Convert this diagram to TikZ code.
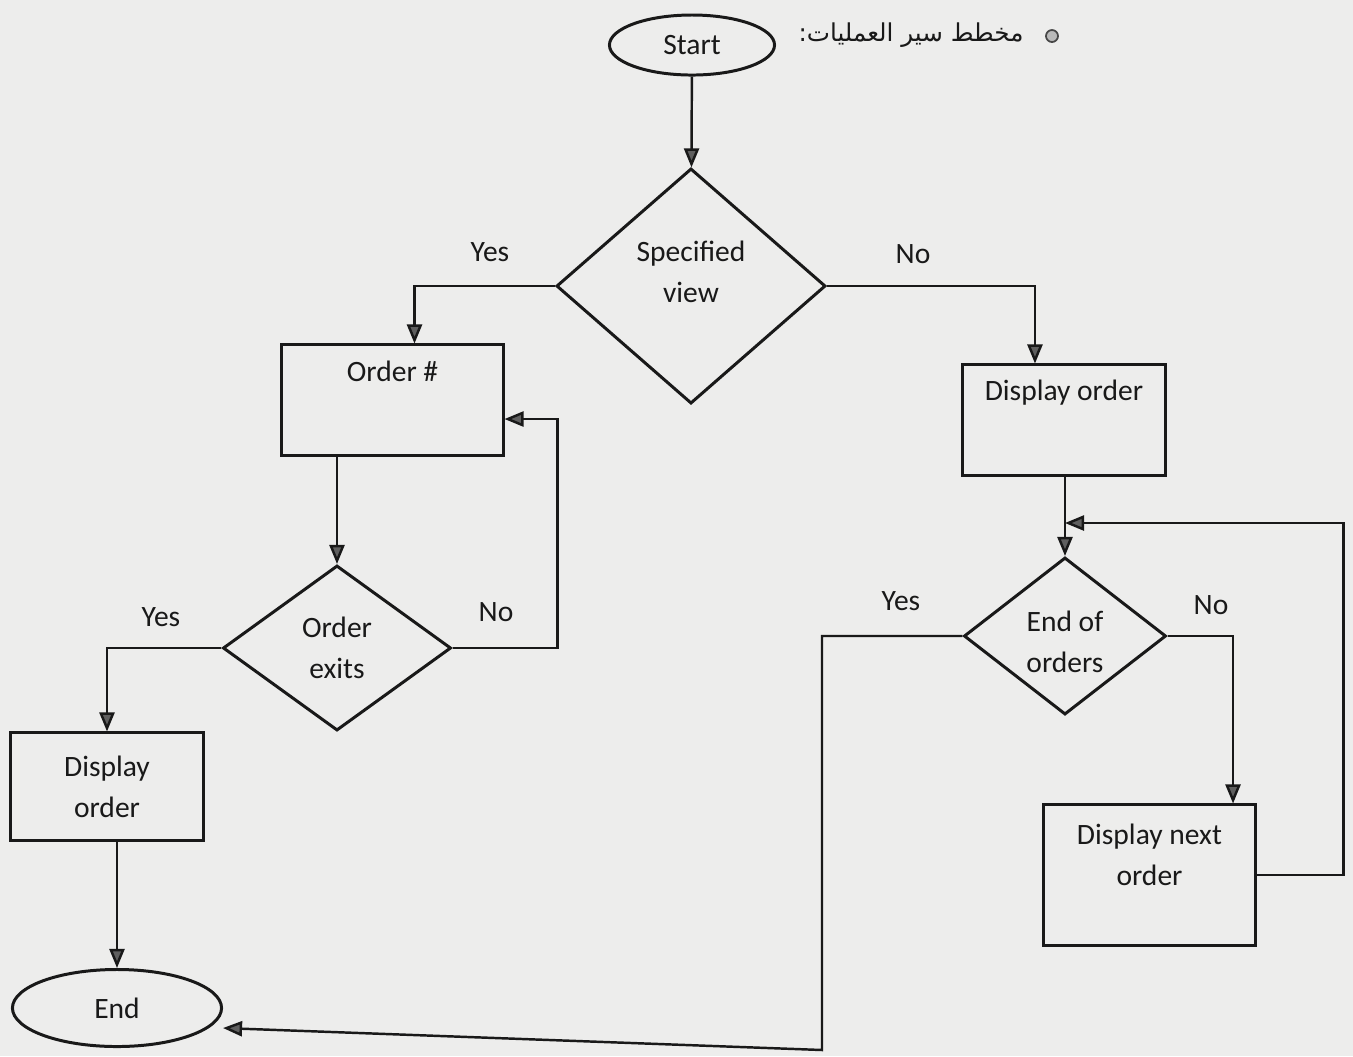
\documentclass[tikz,border=0pt]{standalone}
\usepackage{fontspec}
\setmainfont{Carlito}
\newfontfamily\arabicfont[Script=Arabic]{DejaVu Sans}
\TeXXeTstate=1
\usetikzlibrary{shapes.geometric,arrows.meta}
\definecolor{paper}{RGB}{237,237,236}
\definecolor{ink}{RGB}{25,25,25}
\definecolor{tipgray}{RGB}{95,95,95}
\begin{document}
\begin{tikzpicture}[x=0.01cm, y=-0.01cm,
    every node/.style={font=\fontsize{8.4}{11.6}\selectfont, text=ink},
    box/.style={draw=ink, line width=0.85pt, rectangle, align=center, inner sep=2pt},
    txtat/.style 2 args={label={[anchor=center, align=center, yshift=#2]north:#1}},
    dec/.style={draw=ink, line width=0.85pt, diamond, align=center, inner sep=0pt},
    term/.style={draw=ink, line width=0.85pt, ellipse, inner sep=0pt},
    arr/.style={draw=ink, line width=0.7pt,
                -{Triangle[length=0.19cm, width=0.15cm, fill=tipgray]}},
    lbl/.style={inner sep=1pt}
  ]
    \fill[paper] (0,0) rectangle (1353,1056);
    \useasboundingbox (0,0) rectangle (1353,1056);

    % heading
    \node[circle, draw=ink!80, fill=gray!55, line width=0.5pt, inner sep=0pt,
      minimum size=0.12cm] (bullet) at (1052,36) {};
    \node (title) at (911,35) {\arabicfont\fontsize{7}{8}\selectfont\beginR مخطط سير العمليات:\endR};

    \node[term, minimum width=1.65cm, minimum height=0.60cm] (start) at (692,45)   {Start};
    \node[dec, txtat={Specified\\view}{-1.05cm}, minimum width=2.69cm, minimum height=2.35cm]
      (spec) at (691,286) {};
    \node[box, txtat={Order \#}{-0.28cm}, minimum width=2.21cm, minimum height=1.10cm]
      (ordno) at (392.5,400) {};
    \node[box, txtat={Display order}{-0.29cm}, minimum width=2.02cm, minimum height=1.10cm]
      (disp) at (1064,420) {};
    \node[dec, minimum width=2.28cm, minimum height=1.65cm]  (exits) at (337,648)  {Order\\exits};
    \node[box, minimum width=1.92cm, minimum height=1.07cm]  (dispL) at (107,786.5) {Display\\order};
    \node[term, minimum width=2.09cm, minimum height=0.77cm] (endn)  at (117,1008) {End};
    \node[dec, txtat={End of\\orders}{-0.86cm}, minimum width=2.02cm, minimum height=1.57cm]
      (eoo) at (1065,636) {};
    \node[box, txtat={Display next\\order}{-0.51cm}, minimum width=2.11cm, minimum height=1.40cm]
      (next) at (1149.5,875) {};

    \node[lbl] (yes1) at (490,252) {Yes};
    \node[lbl] (no1)  at (913,254) {No};
    \node[lbl] (no2)  at (496,612) {No};
    \node[lbl] (yes2) at (161,617) {Yes};
    \node[lbl] (yes3) at (901,601) {Yes};
    \node[lbl] (no3)  at (1211,605) {No};

    \coordinate (loopin)  at (1065,523);
    \coordinate (yesturn) at (822,1050);

    \draw[arr] (start) -- (spec);
    \draw[arr] (spec.west) -| ([xshift=0.22cm]ordno.north);
    \draw[arr] (spec.east) -| ([xshift=-0.29cm]disp.north);
    \draw[arr] (exits.north |- ordno.south) -- (exits.north);
    \draw[arr] (exits.east) -- ++(105,0) |- ([yshift=-0.19cm]ordno.east);
    \draw[arr] (exits.west) -| (dispL.north);
    \draw[arr] (dispL.south -| endn.north) -- (endn.north);
    \draw[arr] (disp.south -| eoo.north) -- (eoo.north);
    \draw[arr] (next.east) -- ++(87,0) |- (loopin);
    \draw[arr] (eoo.east) -| ([xshift=0.835cm]next.north);
    \draw[arr] (eoo.west) -| (yesturn) -- ([yshift=-0.2cm]endn.east);
  \end{tikzpicture}
\end{document}
